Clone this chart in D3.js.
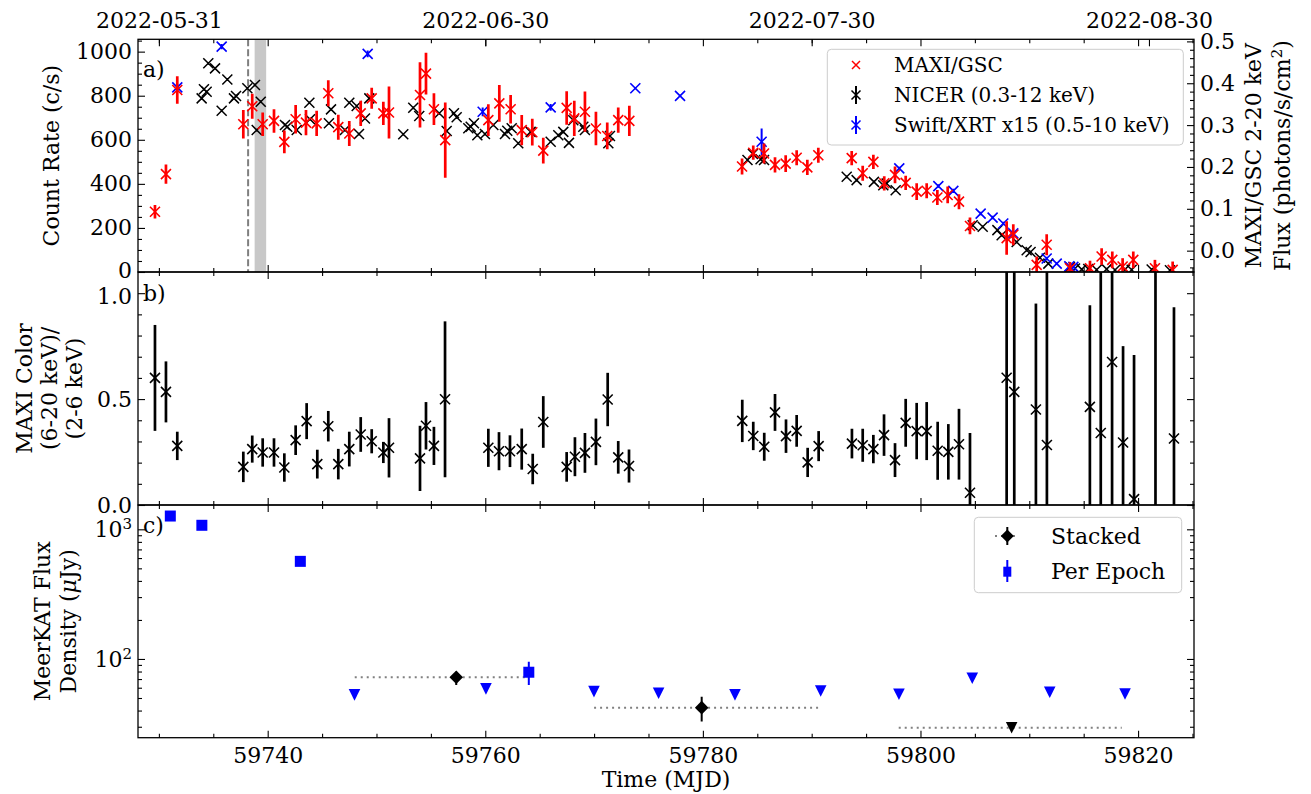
<!DOCTYPE html>
<html>
<head>
<meta charset="utf-8">
<script src="https://cdn.jsdelivr.net/npm/d3@7"></script>
<style>body { margin: 0; background: #fff; }</style>
</head>
<body>
<script>
// ---- MAXI/GSC 2-20 keV flux (right axis of panel a)
const maxiMjd = [59729.64, 59730.65, 59731.69, 59737.76, 59738.58, 59739.54, 59740.58, 59741.53, 59742.57, 59743.52,
  59744.5, 59745.57, 59746.49, 59747.5, 59748.55, 59749.56, 59750.63, 59751.15, 59754.0, 59754.55,
  59755.28, 59756.32, 59760.28, 59761.29, 59762.33, 59763.35, 59764.32, 59765.33, 59767.48, 59768.18,
  59769.16, 59770.17, 59771.21, 59772.22, 59773.24, 59783.6, 59784.63, 59785.62, 59786.63, 59787.61,
  59788.62, 59789.6, 59790.61, 59793.68, 59794.69, 59795.67, 59796.67, 59797.66, 59798.64, 59799.65,
  59800.57, 59801.55, 59802.5, 59803.54, 59804.55, 59807.92, 59808.53, 59810.68, 59811.6, 59813.74,
  59815.58, 59816.65, 59817.63, 59818.58, 59819.56, 59821.55, 59823.18];
const maxiFlux = [0.093, 0.183, 0.384, 0.302, 0.345, 0.302, 0.310, 0.260, 0.314, 0.306,
  0.304, 0.376, 0.295, 0.280, 0.328, 0.364, 0.328, 0.330, 0.372, 0.423,
  0.338, 0.264, 0.312, 0.352, 0.338, 0.288, 0.283, 0.239, 0.341, 0.316,
  0.332, 0.292, 0.274, 0.312, 0.310, 0.201, 0.234, 0.232, 0.205, 0.208,
  0.222, 0.199, 0.228, 0.221, 0.185, 0.212, 0.161, 0.181, 0.162, 0.141,
  0.143, 0.127, 0.133, 0.117, 0.059, 0.030, 0.038, -0.034, 0.014, -0.042,
  -0.042, -0.014, -0.022, -0.038, -0.022, -0.042, -0.046];
const maxiErr = [0.016, 0.023, 0.033, 0.034, 0.030, 0.028, 0.028, 0.027, 0.034, 0.030,
  0.030, 0.031, 0.030, 0.030, 0.030, 0.025, 0.028, 0.062, 0.078, 0.050,
  0.038, 0.090, 0.038, 0.044, 0.034, 0.036, 0.032, 0.031, 0.040, 0.042,
  0.048, 0.040, 0.032, 0.030, 0.036, 0.019, 0.017, 0.024, 0.018, 0.020,
  0.018, 0.018, 0.018, 0.017, 0.018, 0.017, 0.017, 0.020, 0.017, 0.020,
  0.018, 0.018, 0.020, 0.018, 0.020, 0.040, 0.025, 0.020, 0.025, 0.015,
  0.018, 0.020, 0.020, 0.020, 0.020, 0.020, 0.020];

// ---- NICER 0.3-12 keV count rate
const nicerMjd = [59733.93, 59734.14, 59734.39, 59734.54, 59735.16, 59735.77, 59736.29, 59736.9, 59737.09, 59738.13,
  59738.83, 59738.99, 59739.36, 59741.59, 59741.8, 59742.67, 59743.83, 59743.89, 59745.63, 59745.82,
  59747.1, 59747.5, 59748.18, 59748.39, 59748.94, 59749.34, 59752.46, 59753.38, 59753.93, 59755.77,
  59756.45, 59757.12, 59757.37, 59758.44, 59758.66, 59758.96, 59759.27, 59759.97, 59760.74, 59761.81,
  59762.02, 59762.43, 59763.03, 59764.17, 59766.01, 59766.71, 59767.17, 59767.69, 59768.09, 59769.01,
  59769.16, 59771.31, 59771.46, 59784.1, 59784.6, 59785.3, 59785.62, 59793.22, 59794.13, 59795.72,
  59796.58, 59796.89, 59797.72, 59804.8, 59805.72, 59807.07, 59807.46, 59808.84, 59809.76, 59810.12,
  59810.98, 59811.75, 59813.74, 59814.2, 59814.82, 59815.42, 59816.19, 59817.11, 59817.88, 59818.8,
  59819.41, 59821.25, 59822.93];
const nicerRate = [788, 829, 818, 947, 924, 732, 874, 788, 799, 834,
  849, 644, 773, 667, 659, 644, 768, 693, 675, 738,
  644, 768, 753, 626, 697, 788, 625, 745, 708, 720,
  640, 720, 702, 652, 659, 675, 621, 626, 667, 626,
  641, 652, 584, 636, 591, 621, 636, 586, 689, 659,
  644, 584, 617, 508, 536, 512, 508, 432, 417, 409,
  394, 402, 371, 212, 205, 190, 167, 136, 99, 91,
  65, 38, 22, 16, 12, 14, 10, 13, 9, 12,
  10, 11, 8];

// ---- Swift/XRT x15 (0.5-10 keV)
const swiftMjd = [59731.69, 59735.77, 59749.19, 59759.76, 59766.01, 59773.79, 59777.9, 59785.4, 59798.05, 59801.64,
  59803.02, 59805.53, 59806.63, 59807.61, 59808.53, 59811.6, 59812.52, 59813.68, 59814.05];
const swiftRate = [838, 1023, 990, 727, 747, 834, 799, 591, 470, 390,
  368, 265, 247, 220, 175, 61, 38, 26, 23];
const swiftErr = [15, 12, 15, 20, 15, 5, 5, 60, 8, 8,
  10, 8, 8, 8, 8, 8, 6, 5, 5];

// ---- MAXI colour (6-20 keV)/(2-6 keV)
const colorMjd = [59729.64, 59730.65, 59731.69, 59737.76, 59738.58, 59739.54, 59740.58, 59741.53, 59742.57, 59743.58,
  59744.56, 59745.57, 59746.49, 59747.5, 59748.55, 59749.56, 59750.63, 59751.15, 59754.0, 59754.55,
  59755.28, 59756.3, 59760.28, 59761.26, 59762.27, 59763.35, 59764.36, 59765.33, 59767.48, 59768.24,
  59769.16, 59770.17, 59771.25, 59772.22, 59773.21, 59783.62, 59784.63, 59785.64, 59786.63, 59787.64,
  59788.62, 59789.63, 59790.64, 59793.7, 59794.69, 59795.67, 59796.65, 59797.66, 59798.64, 59799.65,
  59800.57, 59801.58, 59802.56, 59803.54, 59804.55, 59807.92, 59808.62, 59810.61, 59811.62, 59815.57,
  59816.57, 59817.61, 59818.62, 59819.63, 59821.6, 59823.3];
const colorVal = [0.600, 0.534, 0.279, 0.180, 0.264, 0.248, 0.248, 0.177, 0.306, 0.396,
  0.193, 0.372, 0.193, 0.264, 0.333, 0.301, 0.248, 0.270, 0.220, 0.374,
  0.279, 0.499, 0.270, 0.254, 0.254, 0.264, 0.170, 0.392, 0.180, 0.228,
  0.246, 0.298, 0.498, 0.225, 0.184, 0.397, 0.326, 0.275, 0.437, 0.325,
  0.350, 0.201, 0.278, 0.290, 0.282, 0.264, 0.330, 0.212, 0.388, 0.349,
  0.349, 0.256, 0.251, 0.287, 0.058, 0.601, 0.534, 0.451, 0.283, 0.463,
  0.340, 0.675, 0.295, 0.028, -0.25, 0.314];
const colorErr = [0.25, 0.144, 0.067, 0.072, 0.064, 0.067, 0.067, 0.067, 0.070, 0.085,
  0.068, 0.072, 0.072, 0.082, 0.082, 0.057, 0.050, 0.140, 0.154, 0.112,
  0.090, 0.368, 0.090, 0.090, 0.075, 0.097, 0.072, 0.122, 0.070, 0.092,
  0.094, 0.110, 0.126, 0.077, 0.078, 0.100, 0.067, 0.066, 0.087, 0.079,
  0.075, 0.069, 0.071, 0.070, 0.078, 0.067, 0.098, 0.080, 0.113, 0.133,
  0.137, 0.137, 0.131, 0.167, 0.282, 1.5, 1.5, 0.50, 1.0, 0.48,
  1.0, 0.8, 0.455, 0.68, 1.5, 0.62];

// ---- MeerKAT radio
const radioMjd = [59731.05, 59733.95, 59743.0, 59764.0];
const radioFlux = [1266, 1074, 566, 79];
const radioErr = [20, 18, 12, 16];
const limitMjd = [59747.98, 59760.06, 59769.99, 59775.93, 59782.95, 59790.83, 59798.02, 59804.76, 59811.88, 59818.8];
const limitFlux = [52.8, 58.8, 56.0, 54.4, 52.8, 56.6, 53.4, 71.0, 55.3, 53.7];
const stackMjd = [59757.33, 59779.89];
const stackFlux = [72.3, 42.1];
const stackErrLo = [9.3, 9.2];
const stackErrHi = [7.5, 9.1];
const stackStart = [59748.0, 59770.0];
const stackEnd = [59763.8, 59790.8];
const stackLimMjd = [59808.38];
const stackLimFlux = [29.5];
const stackLimStart = [59798.0];
const stackLimEnd = [59818.5];

// ---- axis ticks
const xMajor = [59740, 59760, 59780, 59800, 59820];
const xMinor = d3.range(59730, 59826, 5).filter(v => v % 20 !== 0);
const dateTicks = [59730, 59760, 59790, 59821];
const dateLabels = ["2022-05-31", "2022-06-30", "2022-07-30", "2022-08-30"];

const font = "'DejaVu Serif', serif";
const left = 138, right = 1194;
const pA = [39.3, 272], pB = [272, 505], pC = [505, 737.7];

const svg = d3.select("body").append("svg")
  .attr("width", 1311).attr("height", 794)
  .style("font-family", font);

const x = d3.scaleLinear().domain([59728.08, 59825.14]).range([left, right]);
const yA = d3.scaleLinear().domain([0, 1056]).range([pA[1], pA[0]]);
const yA2 = d3.scaleLinear().domain([-0.051, 0.505]).range([pA[1], pA[0]]);
const yB = d3.scaleLinear().domain([0, 1.1]).range([pB[1], pB[0]]);
const yC = d3.scaleLog().domain([24.7, 1540]).range([pC[1], pC[0]]);

// clip each panel
const defs = svg.append("defs");
[["clipA", pA], ["clipB", pB], ["clipC", pC]].forEach(([id, p]) => {
  defs.append("clipPath").attr("id", id).append("rect")
    .attr("x", left).attr("y", p[0]).attr("width", right - left).attr("height", p[1] - p[0]);
});

function addAxis(axis, tx, ty) {
  const g = svg.append("g").attr("transform", `translate(${tx},${ty})`).call(axis);
  g.attr("font-family", font).attr("font-size", 22);
  g.select(".domain").remove();
  g.selectAll(".tick line").attr("stroke", "#000").attr("stroke-width", 1.1);
  g.selectAll(".tick text").attr("fill", "#000");
  return g;
}

function frame(p, yScale, yMajor, yMinor, fmt, showX, mirrorY) {
  addAxis(d3.axisBottom(x).tickValues(xMajor).tickSize(-7).tickPadding(10)
    .tickFormat(showX ? d3.format("d") : ""), 0, p[1]);
  addAxis(d3.axisBottom(x).tickValues(xMinor).tickSize(-4).tickFormat(""), 0, p[1]);
  addAxis(d3.axisTop(x).tickValues(xMajor).tickSize(-7).tickFormat(""), 0, p[0]);
  addAxis(d3.axisTop(x).tickValues(xMinor).tickSize(-4).tickFormat(""), 0, p[0]);
  const ly = addAxis(d3.axisLeft(yScale).tickValues(yMajor).tickSize(-7).tickPadding(6).tickFormat(fmt), left, 0);
  addAxis(d3.axisLeft(yScale).tickValues(yMinor).tickSize(-4).tickFormat(""), left, 0);
  if (mirrorY) {
    addAxis(d3.axisRight(yScale).tickValues(yMajor).tickSize(-7).tickFormat(""), right, 0);
    addAxis(d3.axisRight(yScale).tickValues(yMinor).tickSize(-4).tickFormat(""), right, 0);
  }
  svg.append("rect").attr("x", left).attr("y", p[0])
    .attr("width", right - left).attr("height", p[1] - p[0])
    .attr("fill", "none").attr("stroke", "#000").attr("stroke-width", 1.3);
  return ly;
}

const xPath = r => `M${-r},${-r}L${r},${r}M${-r},${r}L${r},${-r}`;
const triDown = s => `M${-s},${-s}L${s},${-s}L0,${s}Z`;
const diamond = s => `M0,${-s}L${s},0L0,${s}L${-s},0Z`;

function errX(g, rows, ys, color, ew, r, sw) {
  g.selectAll(null).data(rows).join("line")
    .attr("x1", d => x(d.t)).attr("x2", d => x(d.t))
    .attr("y1", d => ys(d.v - d.e)).attr("y2", d => ys(d.v + d.e))
    .attr("stroke", color).attr("stroke-width", ew);
  g.selectAll(null).data(rows).join("path")
    .attr("transform", d => `translate(${x(d.t)},${ys(d.v)})`)
    .attr("d", xPath(r)).attr("fill", "none")
    .attr("stroke", color).attr("stroke-width", sw);
}

// ================= panel a
const gA = svg.append("g").attr("clip-path", "url(#clipA)");
gA.append("rect").attr("x", x(59738.8)).attr("y", pA[0])
  .attr("width", x(59739.86) - x(59738.8)).attr("height", pA[1] - pA[0]).attr("fill", "#c8c8c8");
gA.append("line").attr("x1", x(59738.2)).attr("x2", x(59738.2)).attr("y1", pA[0]).attr("y2", pA[1])
  .attr("stroke", "#7f7f7f").attr("stroke-width", 2).attr("stroke-dasharray", "7,3");

const nicer = nicerMjd.map((t, i) => ({ t, v: nicerRate[i], e: 6 }));
const swift = swiftMjd.map((t, i) => ({ t, v: swiftRate[i], e: swiftErr[i] }));
const maxi = maxiMjd.map((t, i) => ({ t, v: maxiFlux[i], e: maxiErr[i] }));
errX(gA.append("g"), nicer, yA, "#000", 1.5, 5, 1.5);
errX(gA.append("g"), swift, yA, "#0000ff", 2, 5, 1.6);
errX(gA.append("g"), maxi, yA2, "#ff0000", 2.7, 5, 1.6);

const la = frame(pA, yA, d3.range(0, 1001, 200), d3.range(50, 1056, 50).filter(v => v % 200 !== 0), d3.format("d"), false, false);
la.selectAll(".tick text").filter(d => d === 0).attr("dy", "0.26em");
addAxis(d3.axisRight(yA2).tickValues([0, 0.1, 0.2, 0.3, 0.4, 0.5]).tickSize(-7).tickPadding(6)
  .tickFormat(d3.format(".1f")), right, 0);
addAxis(d3.axisRight(yA2).tickValues(d3.range(-0.04, 0.505, 0.02).filter(v => Math.abs(v * 10 - Math.round(v * 10)) > 0.01))
  .tickSize(-4).tickFormat(""), right, 0);
addAxis(d3.axisTop(x).tickValues(dateTicks).tickSize(-7).tickPadding(11)
  .tickFormat((d, i) => dateLabels[i]), 0, pA[0]);

// ================= panel b
const gB = svg.append("g").attr("clip-path", "url(#clipB)");
const color = colorMjd.map((t, i) => ({ t, v: colorVal[i], e: colorErr[i] }));
errX(gB, color, yB, "#000", 2.7, 5, 1.6);
const lb = frame(pB, yB, [0, 0.5, 1.0], d3.range(0.1, 1.1, 0.1).filter(v => Math.abs(v - 0.5) > 0.01 && Math.abs(v - 1) > 0.01),
  d3.format(".1f"), false, true);
lb.selectAll(".tick text").filter(d => d === 1).attr("dy", "0.45em");

// ================= panel c
const gC = svg.append("g").attr("clip-path", "url(#clipC)");
const stacks = stackMjd.map((t, i) => ({ t, v: stackFlux[i], lo: stackErrLo[i], hi: stackErrHi[i], a: stackStart[i], b: stackEnd[i] }));
const stackLim = stackLimMjd.map((t, i) => ({ t, v: stackLimFlux[i], a: stackLimStart[i], b: stackLimEnd[i] }));
gC.selectAll(null).data(stacks.concat(stackLim)).join("line")
  .attr("x1", d => x(d.a)).attr("x2", d => x(d.b))
  .attr("y1", d => yC(d.v)).attr("y2", d => yC(d.v))
  .attr("stroke", "#808080").attr("stroke-width", 2).attr("stroke-dasharray", "2,4");
gC.selectAll(null).data(limitMjd.map((t, i) => ({ t, v: limitFlux[i] }))).join("path")
  .attr("transform", d => `translate(${x(d.t)},${yC(d.v)})`)
  .attr("d", triDown(5.8)).attr("fill", "#0000ff");
const radio = radioMjd.map((t, i) => ({ t, v: radioFlux[i], e: radioErr[i] }));
gC.selectAll(null).data(radio).join("line")
  .attr("x1", d => x(d.t)).attr("x2", d => x(d.t))
  .attr("y1", d => yC(d.v - d.e)).attr("y2", d => yC(d.v + d.e))
  .attr("stroke", "#0000ff").attr("stroke-width", 2);
gC.selectAll(null).data(radio).join("rect")
  .attr("x", d => x(d.t) - 5.5).attr("y", d => yC(d.v) - 5.5)
  .attr("width", 11).attr("height", 11).attr("fill", "#0000ff");
gC.selectAll(null).data(stacks).join("line")
  .attr("x1", d => x(d.t)).attr("x2", d => x(d.t))
  .attr("y1", d => yC(d.v - d.lo)).attr("y2", d => yC(d.v + d.hi))
  .attr("stroke", "#000").attr("stroke-width", 2);
gC.selectAll(null).data(stacks).join("path")
  .attr("transform", d => `translate(${x(d.t)},${yC(d.v)})`)
  .attr("d", diamond(6.8)).attr("fill", "#000");
gC.selectAll(null).data(stackLim).join("path")
  .attr("transform", d => `translate(${x(d.t)},${yC(d.v)})`)
  .attr("d", triDown(5.8)).attr("fill", "#000");

const logMinor = [30, 40, 50, 60, 70, 80, 90, 200, 300, 400, 500, 600, 700, 800, 900];
const lc = frame(pC, yC, [100, 1000], logMinor, () => "", true, true);
lc.selectAll(".tick text").each(function (d) {
  const t = d3.select(this);
  t.text("10");
  t.append("tspan").attr("dy", "-0.5em").attr("font-size", 15).text(Math.round(Math.log10(d)));
});

// ================= panel letters
svg.append("text").attr("x", 143).attr("y", 77).attr("font-size", 22).text("a)");
svg.append("text").attr("x", 143).attr("y", 301).attr("font-size", 22).text("b)");
svg.append("text").attr("x", 143).attr("y", 533).attr("font-size", 22).text("c)");

// ================= axis labels
function vLabel(xb, yc, txt) {
  return svg.append("text").attr("transform", `translate(${xb},${yc}) rotate(-90)`)
    .attr("text-anchor", "middle").attr("font-size", 22).text(txt);
}
vLabel(59, (pA[0] + pA[1]) / 2, "Count Rate (c/s)");
const bMid = (pB[0] + pB[1]) / 2;
vLabel(32, bMid, "MAXI Color");
vLabel(57, bMid, "(6-20 keV)/");
vLabel(82, bMid, "(2-6 keV)");
const cMid = (pC[0] + pC[1]) / 2;
vLabel(50, cMid, "MeerKAT Flux");
const dens = vLabel(75.5, cMid, "Density (");
dens.append("tspan").attr("font-style", "italic").text("\u03bc");
dens.append("tspan").text("Jy)");
const aMid = (pA[0] + pA[1]) / 2;
vLabel(1261, aMid, "MAXI/GSC 2-20 keV");
const flux = vLabel(1290, aMid, "Flux (photons/s/cm");
flux.append("tspan").attr("dy", -8).attr("font-size", 15).text("2");
flux.append("tspan").attr("dy", 8).text(")");
svg.append("text").attr("x", (left + right) / 2).attr("y", 787)
  .attr("text-anchor", "middle").attr("font-size", 22).text("Time (MJD)");

// ================= legend a
const legA = svg.append("g");
legA.append("rect").attr("x", 827.3).attr("y", 49.3).attr("width", 356).attr("height", 95.7)
  .attr("rx", 4).attr("fill", "#fff").attr("fill-opacity", 0.8).attr("stroke", "#cccccc");
const legRows = [
  { label: "MAXI/GSC", color: "#ff0000", bar: false },
  { label: "NICER (0.3-12 keV)", color: "#000", bar: true },
  { label: "Swift/XRT x15 (0.5-10 keV)", color: "#0000ff", bar: true }
];
legRows.forEach((r, i) => {
  const cy = 65 + i * 30;
  if (r.bar) {
    legA.append("line").attr("x1", 856).attr("x2", 856).attr("y1", cy - 9).attr("y2", cy + 9)
      .attr("stroke", r.color).attr("stroke-width", 2);
  }
  legA.append("path").attr("transform", `translate(856,${cy})`).attr("d", xPath(r.bar ? 4.5 : 4))
    .attr("fill", "none").attr("stroke", r.color).attr("stroke-width", 1.5);
  legA.append("text").attr("x", 894).attr("y", cy).attr("dy", "0.35em").attr("font-size", 20).text(r.label);
});

// ================= legend c
const legC = svg.append("g");
legC.append("rect").attr("x", 974.3).attr("y", 517.3).attr("width", 207.4).attr("height", 75.4)
  .attr("rx", 4).attr("fill", "#fff").attr("fill-opacity", 0.8).attr("stroke", "#cccccc");
legC.append("line").attr("x1", 995).attr("x2", 1019).attr("y1", 536).attr("y2", 536)
  .attr("stroke", "#808080").attr("stroke-width", 2).attr("stroke-dasharray", "2,4");
legC.append("line").attr("x1", 1007.3).attr("x2", 1007.3).attr("y1", 527).attr("y2", 545)
  .attr("stroke", "#000").attr("stroke-width", 2);
legC.append("path").attr("transform", "translate(1007.3,536)").attr("d", diamond(6.5)).attr("fill", "#000");
legC.append("line").attr("x1", 1007.3).attr("x2", 1007.3).attr("y1", 560).attr("y2", 582)
  .attr("stroke", "#0000ff").attr("stroke-width", 2);
legC.append("rect").attr("x", 1003.3).attr("y", 566.7).attr("width", 8).attr("height", 10).attr("fill", "#0000ff");
legC.append("text").attr("x", 1051).attr("y", 536).attr("dy", "0.35em").attr("font-size", 22).text("Stacked");
legC.append("text").attr("x", 1051).attr("y", 571.7).attr("dy", "0.35em").attr("font-size", 22).text("Per Epoch");
</script>
</body>
</html>
